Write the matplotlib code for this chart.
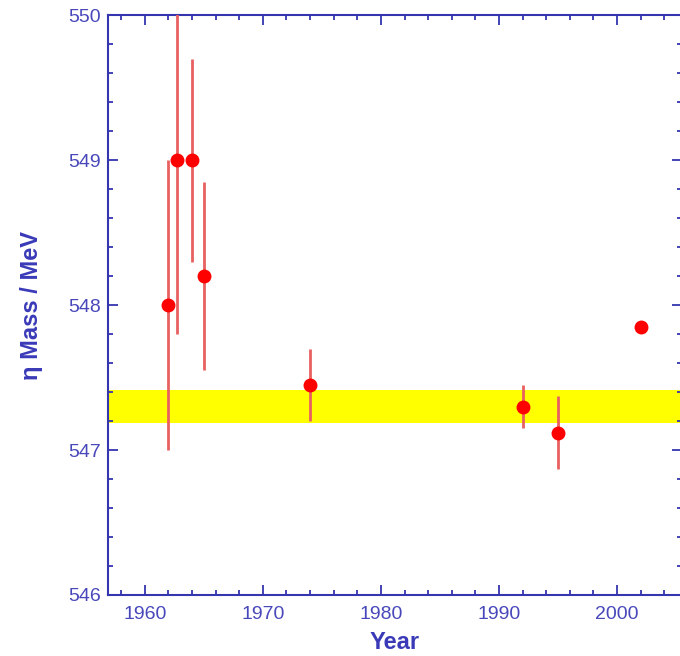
import matplotlib
matplotlib.use("Agg")
import matplotlib.pyplot as plt
from matplotlib.ticker import MultipleLocator

# eta mass measurements (year, mass, error) in MeV
years = [1962, 1962.7, 1964, 1965, 1974, 1992, 1995, 2002]
mass = [548.0, 549.0, 549.0, 548.2, 547.45, 547.3, 547.12, 547.85]
err = [1.0, 1.2, 0.7, 0.65, 0.25, 0.15, 0.25, 0.03]

# world average band
avg_mass = 547.30
avg_err = 0.115

blue = "#3535b0"
label_blue = "#4848bb"

plt.rcParams['font.family'] = ['Liberation Sans', 'DejaVu Sans']

fig = plt.figure(figsize=(6.8, 6.56), dpi=100)
ax = fig.add_axes([0.159, 0.093, 0.844, 0.884])

ax.axhspan(avg_mass - avg_err, avg_mass + avg_err, color='#ffff00', zorder=1, lw=0)

ax.errorbar(years, mass, yerr=err, fmt='o', color='#ff0000', ms=9,
            ecolor='#e86060', elinewidth=2, capsize=0, zorder=3)

ax.set_xlim(1956.9, 2005.5)
ax.set_ylim(546, 550)
ax.xaxis.set_major_locator(MultipleLocator(10))
ax.xaxis.set_minor_locator(MultipleLocator(2))
ax.yaxis.set_major_locator(MultipleLocator(1))
ax.yaxis.set_minor_locator(MultipleLocator(0.2))

for s in ax.spines.values():
    s.set_color(blue)
    s.set_linewidth(1.5)

ax.tick_params(which='both', direction='in', color=blue, top=True, right=True,
               labelcolor=label_blue, labelsize=14, width=1.3)
ax.tick_params(which='major', length=7.5)
ax.tick_params(which='minor', length=3.6)
ax.tick_params(axis='y', pad=5)
ax.tick_params(axis='x', pad=8)

ax.set_xlabel('Year', color='#3a3ab8', fontsize=17, fontweight='bold', labelpad=6)
ax.set_ylabel('η Mass / MeV', color='#3a3ab8', fontsize=17, fontweight='bold', labelpad=18)

fig.savefig('out.png', dpi=100)
